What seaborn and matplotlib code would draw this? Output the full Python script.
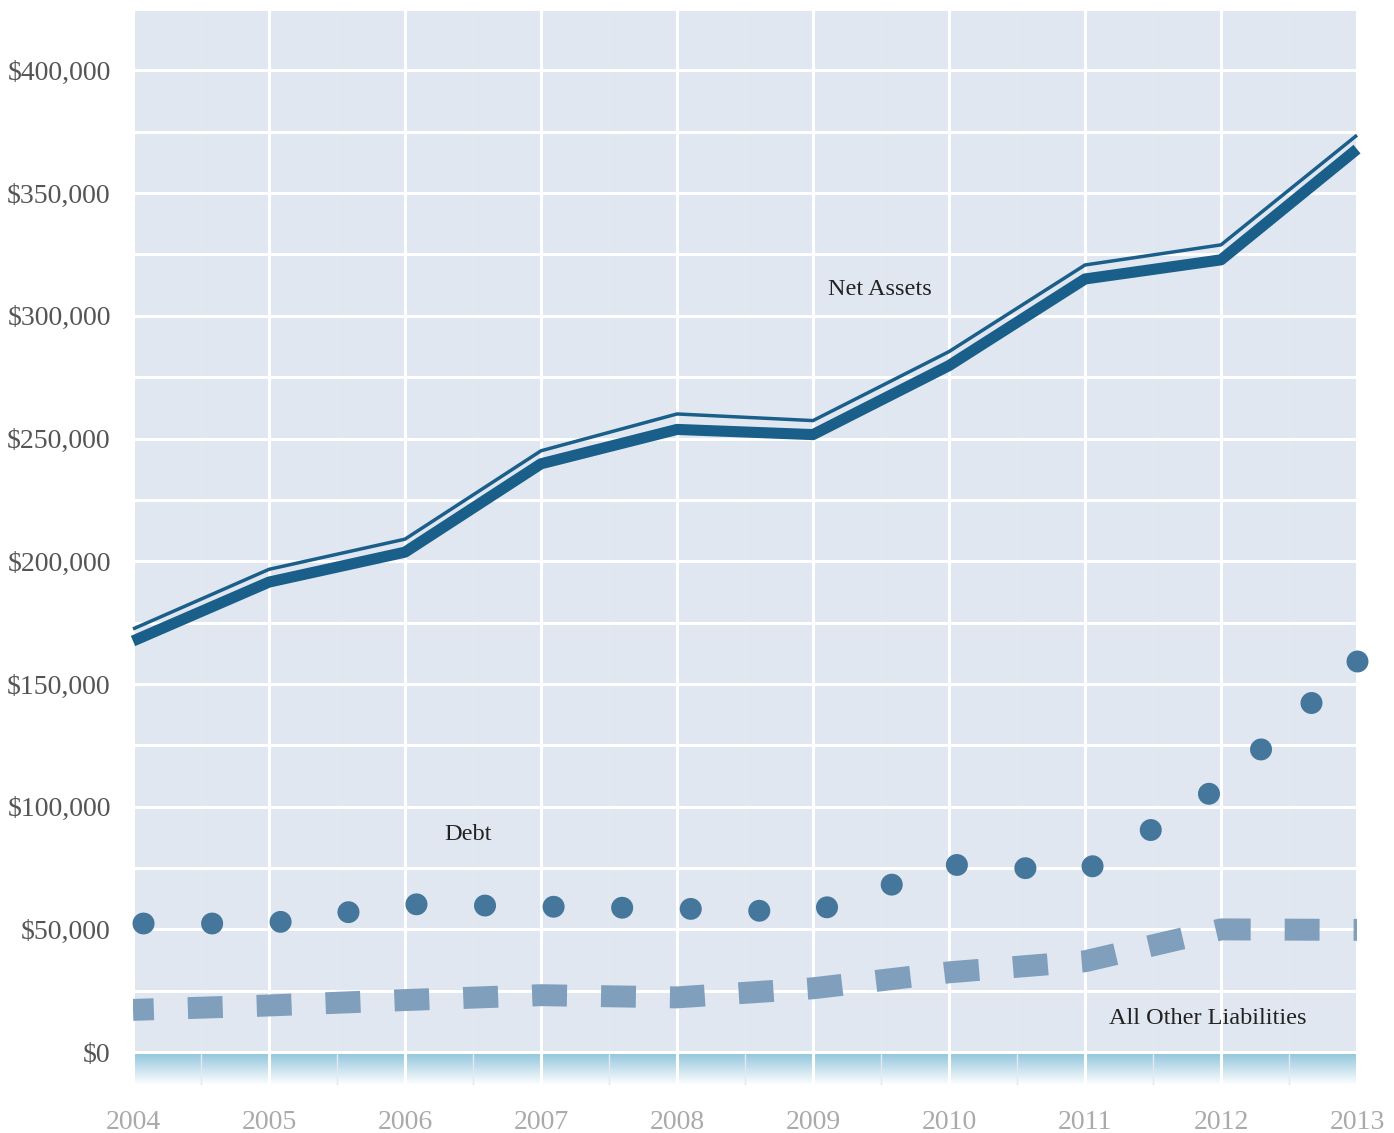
import numpy as np
import pandas as pd
import matplotlib.pyplot as plt
import matplotlib.colors as mcolors
import seaborn as sns

years = [2004, 2005, 2006, 2007, 2008, 2009, 2010, 2011, 2012, 2013]
net_assets = [167500, 191500, 203700, 239700, 253700, 251600, 279700, 315000, 322800, 367900]
net_assets_upper = [172400, 196700, 209000, 245000, 260000, 257300, 285400, 320700, 328900, 373600]
debt = [52400, 52400, 60300, 59300, 58500, 57000, 76400, 73800, 108300, 159300]
other_liabilities = [17200, 19000, 21200, 23200, 22300, 26000, 32500, 37000, 50000, 49800]
ytick_vals = [0, 50000, 100000, 150000, 200000, 250000, 300000, 350000, 400000]
ytick_labels = ["$0", "$50,000", "$100,000", "$150,000", "$200,000", "$250,000",
                "$300,000", "$350,000", "$400,000"]

sns.set_theme(style="darkgrid", rc={"axes.facecolor": "#e1e7f0", "grid.color": "white"})
plt.rcParams["font.family"] = ["Liberation Serif", "DejaVu Serif"]

fig = plt.figure(figsize=(13.94, 11.33), dpi=100)
ax = fig.add_axes([133 / 1394, 48 / 1133, 1224 / 1394, 1076 / 1133])

# gradient band under zero (blue at zero fading to white)
cmap = mcolors.LinearSegmentedColormap.from_list("band", ["#8ec4dc", "#ffffff"])
grad = np.linspace(0, 1, 100).reshape(-1, 1)
ax.imshow(grad, extent=[2004, 2013, -13400, 0], aspect="auto", cmap=cmap,
          zorder=0.3, origin="upper")
ax.set_xlim(2004, 2013)
ax.set_ylim(-13400, 424000)

# grid
ax.set_axisbelow(True)
ax.set_xticks(years)
ax.set_xticks([y + 0.5 for y in years[:-1]], minor=True)
ax.set_yticks(ytick_vals)
ax.set_yticks([v + 25000 for v in ytick_vals], minor=True)
ax.grid(which="major", color="white", lw=2.2)
ax.grid(which="minor", axis="y", color="white", lw=2.2)
ax.grid(which="minor", axis="x", color="#e4e9f1", lw=1)
ax.set_yticklabels(ytick_labels)
ax.set_xticklabels([str(y) for y in years])
ax.tick_params(axis="y", labelsize=20, labelcolor="#555555", length=0, pad=16)
ax.tick_params(axis="x", labelsize=20, labelcolor="#aaaaaa", length=0, pad=18)
ax.tick_params(which="minor", length=0)
for s in ax.spines.values():
    s.set_visible(False)

# series
sns.lineplot(x=years, y=other_liabilities, ax=ax, color="#809fbd", lw=15.8,
             linestyle=(0.64, (1.59, 1.55)), dash_capstyle="butt", zorder=3)
# dotted debt line, with a dot closing the last point
sns.lineplot(x=years, y=debt, ax=ax, color="#45769c", lw=15.8,
             linestyle=(2.65, (0.01, 3.115)), dash_capstyle="round", zorder=3, clip_on=False,
             marker="o", markersize=15.8, markeredgewidth=0, markevery=[len(years) - 1])
sns.lineplot(x=years, y=net_assets_upper, ax=ax, color="#1a5f8a", lw=2.5,
             solid_capstyle="butt", zorder=4, clip_on=False)
sns.lineplot(x=years, y=net_assets, ax=ax, color="#1a5f8a", lw=8,
             solid_capstyle="butt", zorder=4, clip_on=False)

ax.set_xlabel("")
ax.set_ylabel("")

ax.text(2009.49, 310600, "Net Assets", fontsize=17.5, color="#222222", ha="center", va="center")
ax.text(2006.46, 88600, "Debt", fontsize=17.5, color="#222222", ha="center", va="center")
ax.text(2011.9, 13800, "All Other Liabilities", fontsize=17.5, color="#222222", ha="center", va="center")

plt.savefig("out.png", dpi=100)
plt.close()
